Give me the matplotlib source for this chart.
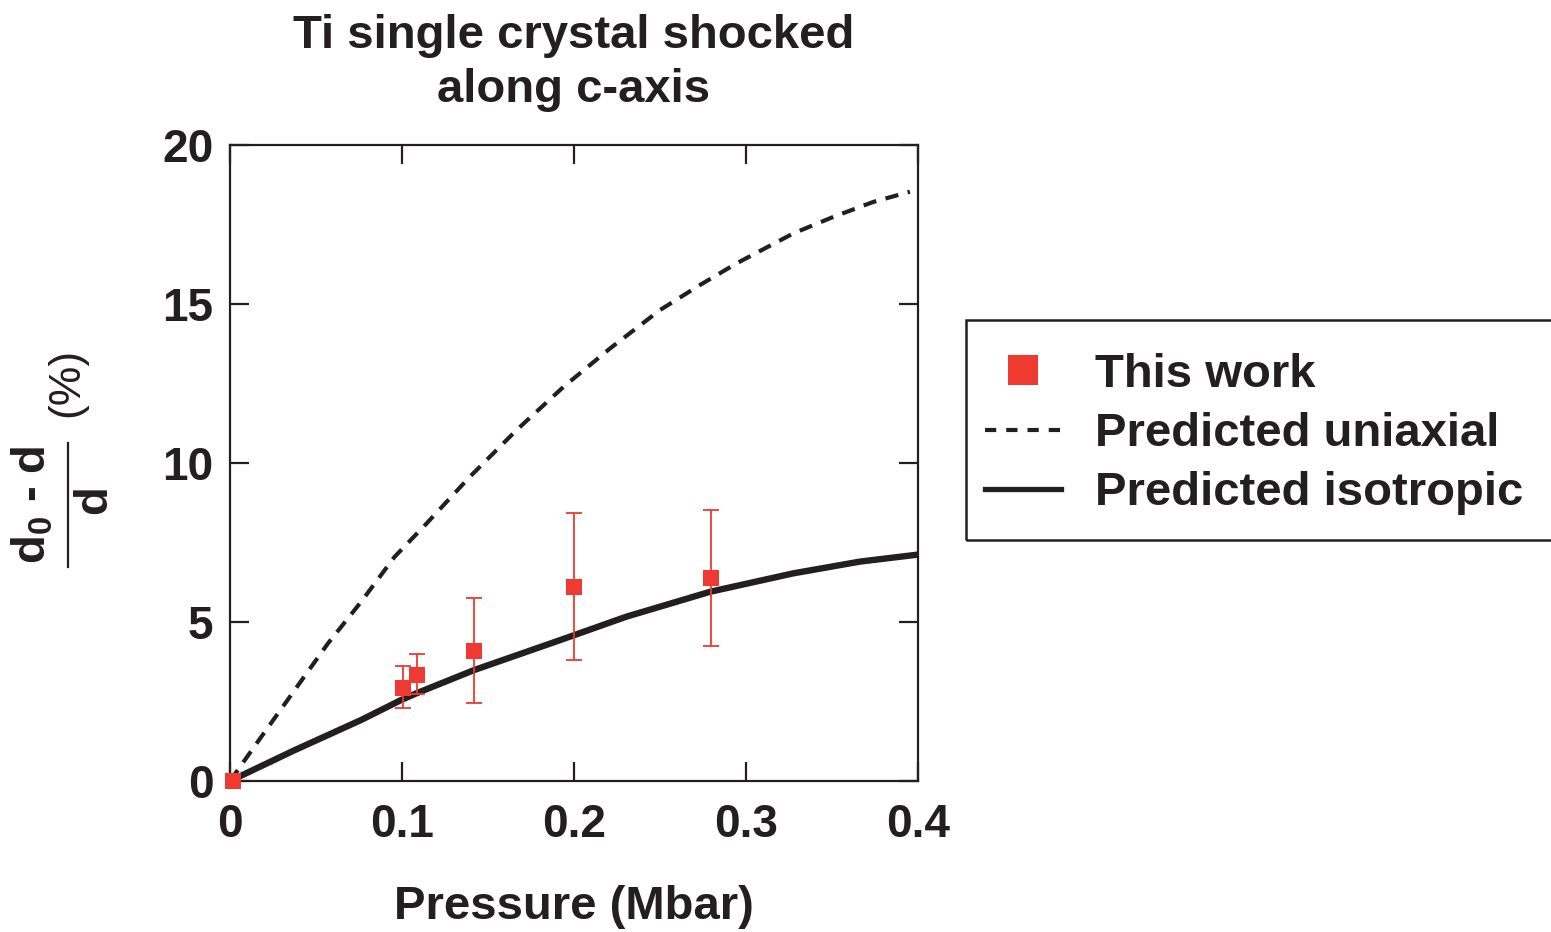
import matplotlib
matplotlib.use("Agg")
import matplotlib.pyplot as plt
from matplotlib.lines import Line2D
from matplotlib.patches import Rectangle

plt.rcParams['font.family'] = ['Liberation Sans', 'DejaVu Sans']
plt.rcParams['font.weight'] = 'bold'
plt.rcParams['mathtext.fontset'] = 'custom'
plt.rcParams['mathtext.rm'] = 'Liberation Sans:bold'
plt.rcParams['mathtext.bf'] = 'Liberation Sans:bold'
plt.rcParams['mathtext.it'] = 'Liberation Sans:bold'

INK = '#231f20'
RED = '#ee3a30'
W, H = 1551, 932

# measured points (This work)
pressure = [0.002, 0.1005, 0.1087, 0.142, 0.2, 0.2797]
strain = [0.0, 2.92, 3.33, 4.09, 6.1, 6.38]
err_low = [0.0, 0.62, 0.59, 1.64, 2.3, 2.13]
err_high = [0.0, 0.70, 0.67, 1.66, 2.33, 2.14]

# predicted curves
uni_p = [0.0, 0.0182, 0.0376, 0.057, 0.0763, 0.0957, 0.1138, 0.1395, 0.1667, 0.1938,
         0.2209, 0.25, 0.2733, 0.2946, 0.3275, 0.3508, 0.374, 0.3953]
uni_s = [0.0, 1.39, 2.86, 4.33, 5.64, 7.05, 8.07, 9.57, 11.04, 12.39,
         13.60, 14.81, 15.60, 16.28, 17.22, 17.74, 18.21, 18.53]
iso_p = [0.0, 0.0376, 0.0763, 0.0996, 0.1085, 0.142, 0.1919, 0.2306, 0.2791, 0.3275, 0.3663, 0.4]
iso_s = [0.0, 0.97, 1.92, 2.55, 2.76, 3.49, 4.43, 5.17, 5.95, 6.53, 6.90, 7.12]

xticks = [0, 0.1, 0.2, 0.3, 0.4]
xtick_labels = ['0', '0.1', '0.2', '0.3', '0.4']
yticks = [0, 5, 10, 15, 20]

fig = plt.figure(figsize=(W / 100, H / 100), dpi=100)
ax = fig.add_axes([230 / W, 1 - 781 / H, 688 / W, 636 / H])

ax.plot(uni_p, uni_s, color=INK, lw=3.0, dashes=(3.2, 2.3))
ax.plot(iso_p, iso_s, color=INK, lw=4.6, solid_capstyle='butt', solid_joinstyle='round')
ax.errorbar(pressure, strain, yerr=[err_low, err_high], fmt='none',
            ecolor=RED, elinewidth=1.3, capsize=6, capthick=1.3, clip_on=False)
ax.plot(pressure, strain, 's', color=RED, ms=11.5, mew=0, clip_on=False, zorder=5)

ax.set_xlim(0, 0.4)
ax.set_ylim(0, 20)
ax.set_xticks(xticks)
ax.set_xticklabels(xtick_labels)
ax.set_yticks(yticks)
ax.tick_params(direction='in', length=14, width=1.6, color=INK, labelcolor=INK,
               labelsize=33, top=True, right=True)
ax.tick_params(axis='y', pad=12)
ax.tick_params(axis='x', pad=16)
for s in ax.spines.values():
    s.set_linewidth(1.6)
    s.set_color(INK)

ax.set_title('Ti single crystal shocked\nalong c-axis', fontsize=34, fontweight='bold',
             color=INK, pad=31, linespacing=1.28)
ax.set_xlabel('Pressure (Mbar)', fontsize=34, fontweight='bold', color=INK, labelpad=27)

# y label: (d0 - d) / d  (%)
fig.text(33 / W, 1 - 505 / H, r'd$_0$ - d', rotation=90, ha='center', va='center',
         fontsize=34, fontweight='bold', color=INK)
fig.text(94 / W, 1 - 500 / H, 'd', rotation=90, ha='center', va='center',
         fontsize=34, fontweight='bold', color=INK)
fig.add_artist(Line2D([68 / W, 68 / W], [1 - 443 / H, 1 - 567 / H], color=INK, lw=1.6))
fig.text(67 / W, 1 - 382 / H, '(%)', rotation=90, ha='center', va='center',
         fontsize=32, fontweight='normal', color=INK)

# legend box runs past the right edge of the figure
fig.add_artist(Rectangle((966 / W, 1 - 540 / H), 700 / W, 220 / H, transform=fig.transFigure,
                         fill=False, ec=INK, lw=1.8))
handles = [
    Line2D([], [], ls='none', marker='s', ms=21, mew=0, color=RED),
    Line2D([], [], color=INK, lw=3.0, dashes=(2.7, 2.4)),
    Line2D([], [], color=INK, lw=3.8),
]
labels = ['This work', 'Predicted uniaxial', 'Predicted isotropic']
leg = fig.legend(handles, labels, loc='upper left',
                 bbox_to_anchor=(985 / W, 1 - 353 / H), borderaxespad=0,
                 fontsize=34, frameon=False, handlelength=1.6, handletextpad=0.72,
                 borderpad=0, labelspacing=0.32)
for t in leg.get_texts():
    t.set_color(INK)

fig.savefig('out.png', dpi=100)
